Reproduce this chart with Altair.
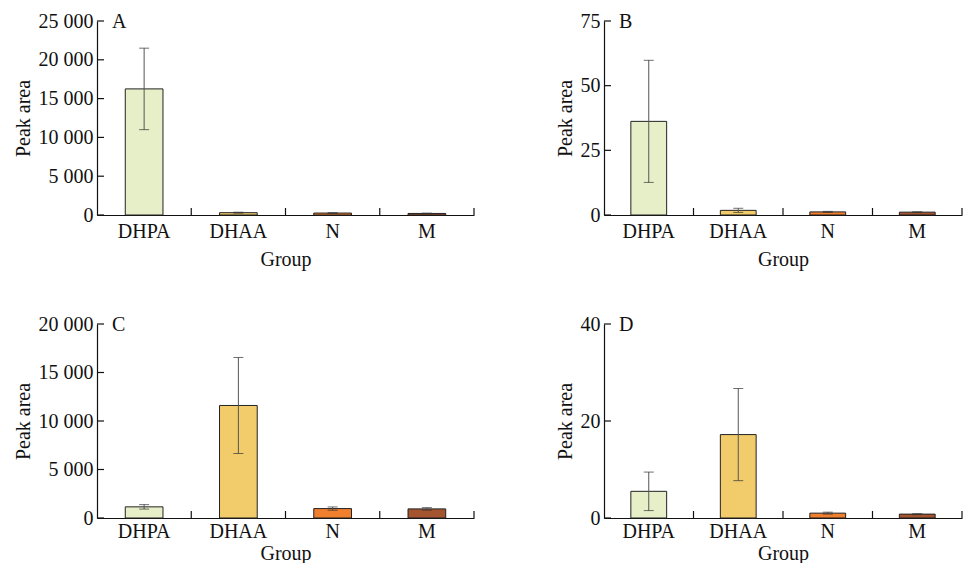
import altair as alt
import pandas as pd

groups = ["DHPA", "DHAA", "N", "M"]
colors = ["#e7efc8", "#f2cc6b", "#f07f2e", "#a4552f"]

A_mean = [16250, 300, 250, 200]
A_err = [5250, 60, 50, 40]
B_mean = [36.2, 1.8, 1.2, 1.1]
B_err = [23.6, 0.8, 0.2, 0.15]
C_mean = [1150, 11600, 970, 940]
C_err = [230, 4950, 170, 130]
D_mean = [5.5, 17.2, 1.0, 0.8]
D_err = [3.97, 9.5, 0.2, 0.1]

A_ticks = [0, 5000, 10000, 15000, 20000, 25000]
B_ticks = [0, 25, 50, 75]
C_ticks = [0, 5000, 10000, 15000, 20000]
D_ticks = [0, 20, 40]

W_LEFT, W_RIGHT, H = 377, 358, 194
FONT = "Liberation Serif"
FS = 20


def panel(letter, means, errs, ticks, W, lp, tp):
    df = pd.DataFrame({
        "group": groups,
        "mean": means,
        "lo": [m - e for m, e in zip(means, errs)],
        "hi": [m + e for m, e in zip(means, errs)],
    })
    tdf = pd.DataFrame({"tick": ticks})
    dom = [ticks[0], ticks[-1]]
    xs = alt.Scale(domain=groups, paddingInner=0, paddingOuter=0)
    ys = alt.Scale(domain=dom, nice=False, zero=True)
    xax = alt.Axis(title="Group", labelAngle=0, ticks=False,
                   labelPadding=lp, titlePadding=tp)
    yax = alt.Axis(title="Peak area", values=ticks, ticks=False,
                   labelPadding=4, titlePadding=5,
                   labelExpr="replace(format(datum.value, ','), ',', ' ')")

    def X(**kw):
        return alt.X("group:N", scale=xs, sort=groups, axis=xax, title="Group", **kw)

    def Y(f):
        return alt.Y(f, scale=ys, axis=yax, title="Peak area")

    bars = alt.Chart(df).mark_bar(
        width=alt.RelativeBandSize(0.4), stroke="#222222", strokeWidth=1
    ).encode(
        x=X(),
        y=Y("mean:Q"),
        color=alt.Color("group:N", scale=alt.Scale(domain=groups, range=colors), legend=None),
    )
    err = alt.Chart(df).mark_rule(color="#555555", strokeWidth=1).encode(
        x=X(), y=Y("lo:Q"), y2="hi:Q",
    )
    cap_hi = alt.Chart(df).mark_tick(color="#333333", size=10, thickness=1).encode(
        x=X(), y=Y("hi:Q"),
    )
    cap_lo = alt.Chart(df).mark_tick(color="#333333", size=10, thickness=1).encode(
        x=X(), y=Y("lo:Q"),
    )
    xt = alt.Chart(df).mark_rule(color="#111111", strokeWidth=1.2).encode(
        x=X(bandPosition=1),
        y=alt.value(H - 7),
        y2=alt.value(H),
    )
    yt = alt.Chart(tdf).mark_rule(color="#111111", strokeWidth=1.2).encode(
        y=Y("tick:Q"),
        x=alt.value(0),
        x2=alt.value(7),
    )
    lab = alt.Chart(pd.DataFrame({"t": [letter]})).mark_text(
        align="left", baseline="middle", font=FONT, fontSize=FS, color="#111111"
    ).encode(text="t:N", x=alt.value(15), y=alt.value(1))
    return alt.layer(bars, err, cap_hi, cap_lo, xt, yt, lab).properties(width=W, height=H)


top = alt.hconcat(panel("A", A_mean, A_err, A_ticks, W_LEFT, 6, 8),
                  panel("B", B_mean, B_err, B_ticks, W_RIGHT, 6, 8), spacing=80)
bot = alt.hconcat(panel("C", C_mean, C_err, C_ticks, W_LEFT, 3, 2),
                  panel("D", D_mean, D_err, D_ticks, W_RIGHT, 3, 2), spacing=80)
chart = alt.vconcat(top, bot, spacing=45).properties(
    padding={"left": 5, "top": 3, "right": 0, "bottom": 0}
).configure_view(stroke=None).configure_axis(
    labelFont=FONT, titleFont=FONT, labelFontSize=FS, titleFontSize=FS,
    titleFontWeight="normal", labelColor="#111111", titleColor="#111111",
    domainColor="#111111", domainWidth=1.2, grid=False,
)

chart.save("out.html", embed_options={"renderer": "svg", "actions": False})
